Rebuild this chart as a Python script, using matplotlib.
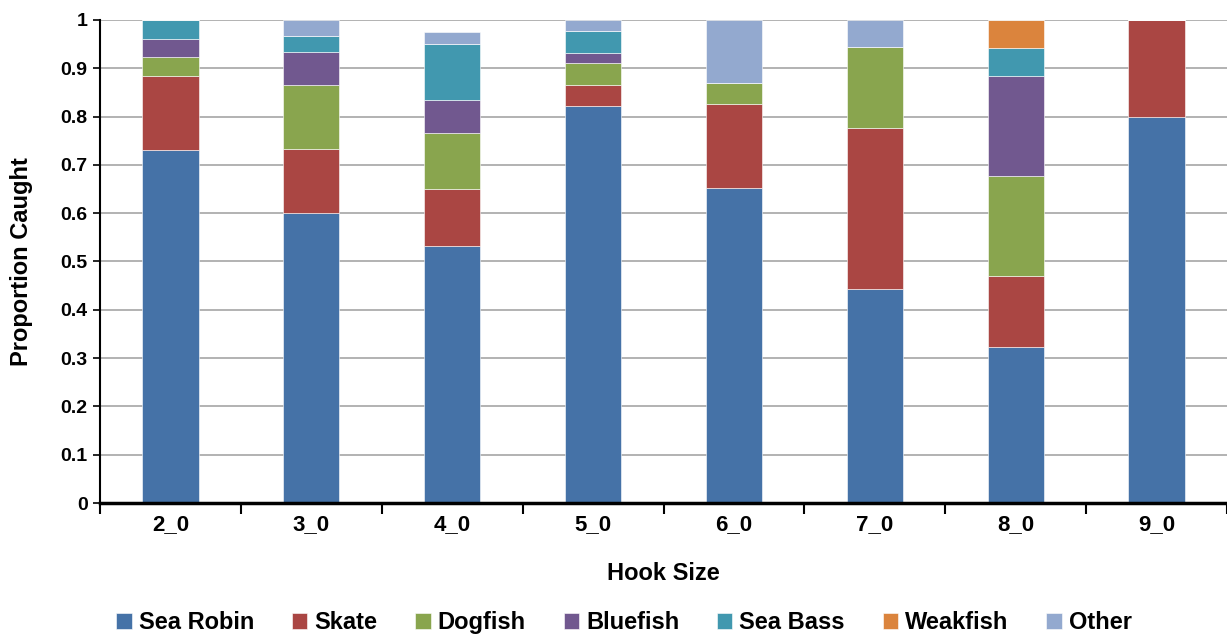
import numpy as np
import matplotlib
matplotlib.use("Agg")
import matplotlib.pyplot as plt
from matplotlib.ticker import MultipleLocator

plt.rcParams["font.family"] = ["Liberation Sans", "DejaVu Sans"]
plt.rcParams["font.weight"] = "bold"

hook_sizes = ["2_0", "3_0", "4_0", "5_0", "6_0", "7_0", "8_0", "9_0"]

# proportion of catch per species for each hook size
sea_robin = [0.731, 0.600, 0.533, 0.822, 0.652, 0.444, 0.324, 0.800]
skate = [0.154, 0.133, 0.117, 0.044, 0.174, 0.333, 0.147, 0.200]
dogfish = [0.038, 0.133, 0.117, 0.044, 0.043, 0.167, 0.206, 0.0]
bluefish = [0.038, 0.067, 0.067, 0.022, 0.0, 0.0, 0.206, 0.0]
sea_bass = [0.039, 0.033, 0.117, 0.045, 0.0, 0.0, 0.059, 0.0]
weakfish = [0.0, 0.0, 0.0, 0.0, 0.0, 0.0, 0.058, 0.0]
other = [0.0, 0.034, 0.025, 0.023, 0.131, 0.056, 0.0, 0.0]

species = ["Sea Robin", "Skate", "Dogfish", "Bluefish", "Sea Bass", "Weakfish", "Other"]
series = [sea_robin, skate, dogfish, bluefish, sea_bass, weakfish, other]
colors = ["#4572A7", "#AA4643", "#89A54E", "#71588F", "#4198AF", "#DB843D", "#93A9CF"]

fig = plt.figure(figsize=(12.27, 6.34), dpi=100)
ax = fig.add_axes([0.0815, 0.2066, 0.9185, 0.7619])

x = np.arange(len(hook_sizes))
bottom = np.zeros(len(hook_sizes))
for name, vals, col in zip(species, series, colors):
    vals = np.array(vals)
    ax.bar(x, vals, width=0.4, bottom=bottom, color=col, label=name,
           edgecolor="white", linewidth=0.4, zorder=3)
    bottom += vals

ax.set_xlim(-0.5, len(hook_sizes) - 0.5)
ax.set_ylim(0, 1)
ax.yaxis.set_major_locator(MultipleLocator(0.1))
ax.yaxis.set_major_formatter(plt.FuncFormatter(
    lambda v, p: f"{int(round(v))}" if round(v, 1) in (0, 1) else f"{v:.1f}"))
ax.grid(axis="y", color="#A6A6A6", linewidth=1.2, zorder=0)

ax.set_xticks(x)
ax.set_xticklabels(hook_sizes)
ax.set_xticks(np.arange(-0.5, len(hook_sizes), 1.0), minor=True)
ax.tick_params(axis="x", which="major", length=0, pad=8, labelsize=16)
ax.tick_params(axis="x", which="minor", length=8, width=1.5, direction="out")
ax.tick_params(axis="y", length=5, width=1.2, labelsize=14, pad=4)

for s in ("top", "right"):
    ax.spines[s].set_visible(False)
ax.spines["left"].set_linewidth(1.5)
ax.spines["bottom"].set_linewidth(2.5)
ax.spines["bottom"].set_zorder(4)

ax.set_xlabel("Hook Size", fontsize=17, fontweight="bold", labelpad=19)
ax.set_ylabel("Proportion Caught", fontsize=17, fontweight="bold", labelpad=20)

ax.legend(loc="center", bbox_to_anchor=(0.465, -0.248), ncol=7, frameon=False,
          fontsize=17, handlelength=0.65, handleheight=0.65, handletextpad=0.3,
          columnspacing=1.6)

fig.savefig("out.png", dpi=100)
